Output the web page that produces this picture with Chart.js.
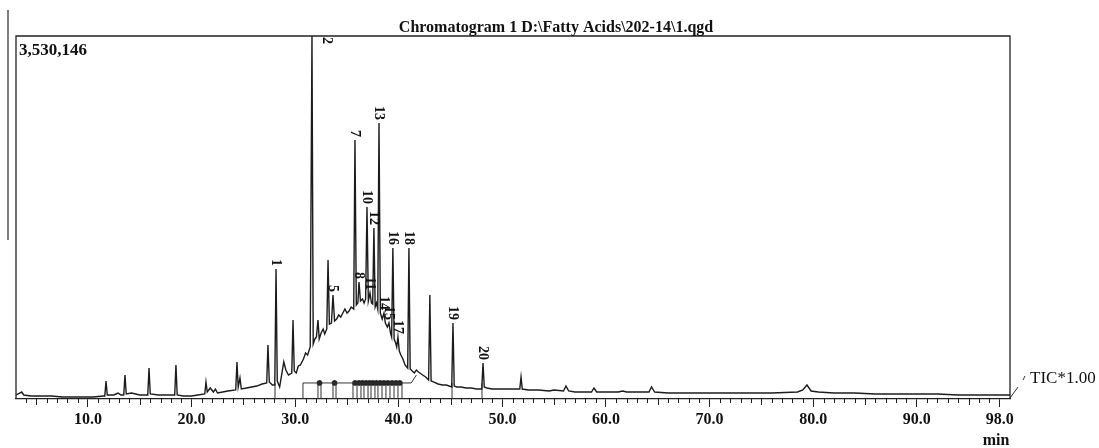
<!DOCTYPE html>
<html>
<head>
<meta charset="utf-8">
<script src="https://cdn.jsdelivr.net/npm/chart.js@4.4.1/dist/chart.umd.min.js"></script>
<style>
html,body{margin:0;padding:0;background:#fff;}
canvas{display:block;}
</style>
</head>
<body>
<canvas id="chrom" width="1099" height="448"></canvas>
<script>
// retention time (min) and TIC signal (counts)
const times = [
  3.05,3.4,3.6,3.8,4.5,5.5,6.5,7.5,8.5,9.5,
  10.5,11.5,11.62,11.74,11.86,12.5,12.9,13.2,13.45,13.57,
  13.69,14.2,14.6,15.0,15.77,15.89,16.01,16.8,17.5,18.37,
  18.49,18.61,19.2,20.0,20.6,21.27,21.39,21.51,21.8,22.1,
  22.3,22.5,23.0,23.5,24.26,24.38,24.5,24.67,24.8,25.3,
  25.8,26.3,26.8,27.25,27.37,27.5,27.8,28.03,28.15,28.27,
  28.5,28.9,29.1,29.35,29.67,29.79,29.91,30.1,30.3,30.5,
  30.8,31.0,31.2,31.45,31.62,31.74,31.9,32.05,32.2,32.32,
  32.5,32.7,32.85,33.05,33.17,33.3,33.5,33.65,33.8,34.0,
  34.2,34.4,34.6,34.8,35.0,35.2,35.4,35.65,35.77,35.9,
  36.05,36.16,36.3,36.5,36.65,36.8,36.93,37.06,37.22,37.36,
  37.48,37.6,37.72,37.85,37.97,38.09,38.22,38.4,38.57,38.7,
  38.9,39.05,39.2,39.31,39.43,39.55,39.7,39.8,39.92,40.05,
  40.2,40.4,40.6,40.86,40.98,41.1,41.3,41.5,41.7,41.9,
  42.3,42.6,42.88,43.0,43.12,43.4,43.8,44.2,44.6,45.11,
  45.23,45.35,45.6,46.0,46.5,47.0,47.5,48.01,48.13,48.25,
  48.5,49.0,49.6,50.2,51.0,51.68,51.8,51.92,52.5,53.5,
  54.5,55.0,55.9,56.14,56.4,57.0,58.0,58.6,58.84,59.1,
  60.0,61.2,61.6,62.0,63.0,64.15,64.4,64.7,66.0,68.0,
  70.0,72.0,74.0,76.0,78.5,79.0,79.4,79.8,80.5,82.0,
  84.0,86.0,88.0,90.0,92.0,94.0,96.0,98.0,99.0
];
const counts = [
  39000,58000,68000,39000,29000,29000,29000,19000,19000,19000,
  19000,29000,29000,175000,39000,39000,58000,39000,39000,233000,
  49000,58000,49000,39000,39000,301000,49000,39000,39000,39000,
  331000,39000,29000,29000,39000,49000,165000,68000,107000,68000,
  97000,58000,68000,78000,88000,360000,117000,204000,97000,107000,
  117000,126000,146000,156000,525000,165000,136000,136000,1264000,175000,
  117000,360000,282000,233000,253000,768000,272000,253000,321000,331000,
  389000,447000,428000,506000,3530146,535000,584000,603000,768000,584000,
  642000,681000,632000,681000,1352000,729000,739000,1011000,759000,778000,
  817000,797000,836000,875000,836000,856000,895000,875000,2519000,914000,
  934000,1138000,953000,973000,934000,973000,1867000,953000,1031000,934000,
  924000,1663000,895000,934000,875000,2684000,836000,778000,836000,739000,
  700000,739000,642000,603000,1468000,584000,545000,506000,603000,467000,
  428000,389000,331000,301000,1468000,292000,272000,253000,282000,263000,
  233000,214000,185000,1011000,175000,165000,146000,136000,136000,117000,
  739000,126000,117000,117000,107000,107000,97000,97000,350000,117000,
  107000,97000,97000,97000,97000,97000,214000,97000,88000,88000,
  78000,88000,78000,126000,78000,68000,68000,68000,107000,68000,
  68000,68000,78000,68000,68000,68000,117000,68000,58000,58000,
  58000,58000,58000,58000,68000,88000,136000,78000,68000,58000,
  58000,49000,49000,49000,49000,39000,39000,39000,39000
];

// numbered peaks
const peakNames = ["1","2","5","7","8","10","11","12","13","14","15","16","17","18","19","20"];
const peakTimes = [28.15,31.62,33.65,35.77,36.16,36.93,37.22,37.6,38.09,38.57,39.05,39.43,39.92,40.98,45.23,48.13];

// integration baseline, cut marks and peak markers
const baseTimes = [30.75, 41.2, 41.7];
const baseCounts = [156000, 156000, 233000];
const cutTimes = [28.05,30.75,32.2,32.49,33.65,33.94,35.58,35.97,36.35,36.64,37.03,37.32,37.7,37.99,38.38,38.76,39.15,39.54,39.92,40.31,45.14,48.03];
const cutLevel = 78000;
const dotTimes = [32.35,33.8,35.78,36.16,36.5,36.84,37.18,37.5,37.85,38.2,38.57,38.95,39.35,39.73,40.1];
const dotLevel = 156000;

const xTicks = [10,20,30,40,50,60,70,80,90,98];
const fullScale = 3530146;

const serif = '"Liberation Serif", "DejaVu Serif", serif';

const deco = {
  id: 'deco',
  afterDraw(chart){
    const {ctx, chartArea:a, scales} = chart;
    const xs = scales.x, ys = scales.y;
    ctx.save();
    ctx.strokeStyle = '#222';
    ctx.lineWidth = 1.3;
    // frame
    ctx.beginPath();
    ctx.moveTo(a.left, a.bottom); ctx.lineTo(a.left, a.top);
    ctx.lineTo(a.right, a.top); ctx.lineTo(a.right, a.bottom);
    ctx.stroke();
    // minor ticks
    ctx.lineWidth = 1;
    ctx.beginPath();
    for(let m=4; m<=97; m++){
      if(m%10===0) continue;
      const x = Math.round(xs.getPixelForValue(m))+0.5;
      const len = m%5===0 ? 6 : 4;
      ctx.moveTo(x, a.bottom); ctx.lineTo(x, a.bottom+len);
    }
    ctx.stroke();
    // stray scan line at far left
    ctx.strokeStyle = '#555';
    ctx.lineWidth = 1.5;
    ctx.beginPath(); ctx.moveTo(8, 10); ctx.lineTo(8, 240); ctx.stroke();
    // TIC pointer
    ctx.strokeStyle = '#333';
    ctx.lineWidth = 1;
    ctx.beginPath(); ctx.moveTo(a.right, a.bottom-1); ctx.lineTo(a.right+8, a.bottom-12); ctx.stroke();
    ctx.beginPath(); ctx.moveTo(1025, 376); ctx.lineTo(1023, 380); ctx.stroke();

    ctx.fillStyle = '#111';
    ctx.textBaseline = 'alphabetic';
    ctx.font = 'bold 16px ' + serif;
    ctx.textAlign = 'center';
    ctx.fillText('Chromatogram 1 D:\\Fatty Acids\\202-14\\1.qgd', 556, 32);
    ctx.fillText('min', 996, 445);
    ctx.textAlign = 'left';
    ctx.font = 'bold 17px ' + serif;
    ctx.fillText('3,530,146', 19, 55);
    ctx.font = '17px ' + serif;
    ctx.fillText('TIC*1.00', 1030, 383);

    // peak numbers, rotated
    ctx.font = 'bold 14px ' + serif;
    ctx.textBaseline = 'middle';
    peakNames.forEach((name, i) => {
      const t = peakTimes[i];
      const idx = times.indexOf(t);
      let x = xs.getPixelForValue(t);
      let y = ys.getPixelForValue(counts[idx]) - 3;
      const w = ctx.measureText(name).width;
      ctx.save();
      if(y - w < a.top){
        x += 15; y = a.top + w + 1;
      }
      ctx.translate(x, y);
      ctx.rotate(Math.PI/2);
      ctx.textAlign = 'right';
      ctx.fillText(name, 0, 0);
      ctx.restore();
    });
    ctx.restore();
  }
};

new Chart(document.getElementById('chrom'), {
  type: 'scatter',
  data: {
    datasets: [
      {
        data: times.map((t,i)=>({x:t, y:counts[i]})),
        showLine: true,
        borderColor: '#1c1c1c',
        borderWidth: 1.4,
        pointRadius: 0,
        tension: 0
      },
      {
        data: baseTimes.map((t,i)=>({x:t, y:baseCounts[i]})),
        showLine: true,
        borderColor: '#333',
        borderWidth: 1,
        pointRadius: 0
      },
      {
        data: cutTimes.map(t=>({x:t, y:cutLevel})),
        pointStyle: 'line',
        rotation: 90,
        pointRadius: 8,
        borderColor: '#333',
        borderWidth: 1
      },
      {
        data: dotTimes.map(t=>({x:t, y:dotLevel})),
        pointStyle: 'circle',
        pointRadius: 2.6,
        backgroundColor: '#222',
        borderColor: '#222',
        borderWidth: 0.5
      }
    ]
  },
  options: {
    responsive: false,
    animation: false,
    devicePixelRatio: 1,
    layout: { padding: { left: 16, right: 89, top: 36, bottom: 0 } },
    plugins: { legend: { display: false }, tooltip: { enabled: false }, title: { display: false } },
    scales: {
      x: {
        type: 'linear',
        min: 3.05,
        max: 99,
        afterBuildTicks: s => { s.ticks = xTicks.map(v => ({ value: v })); },
        afterFit: s => { s.height = 49; },
        ticks: {
          callback: v => Number(v).toFixed(1),
          font: { family: serif, size: 16, weight: 'bold' },
          color: '#111',
          maxRotation: 0,
          autoSkip: false,
          padding: 3
        },
        grid: { drawOnChartArea: false, drawTicks: true, tickLength: 8, tickColor: '#222', tickWidth: 1 },
        border: { display: true, color: '#222', width: 1.3 }
      },
      y: {
        display: false,
        min: 0,
        max: fullScale
      }
    }
  },
  plugins: [deco]
});
</script>
</body>
</html>
